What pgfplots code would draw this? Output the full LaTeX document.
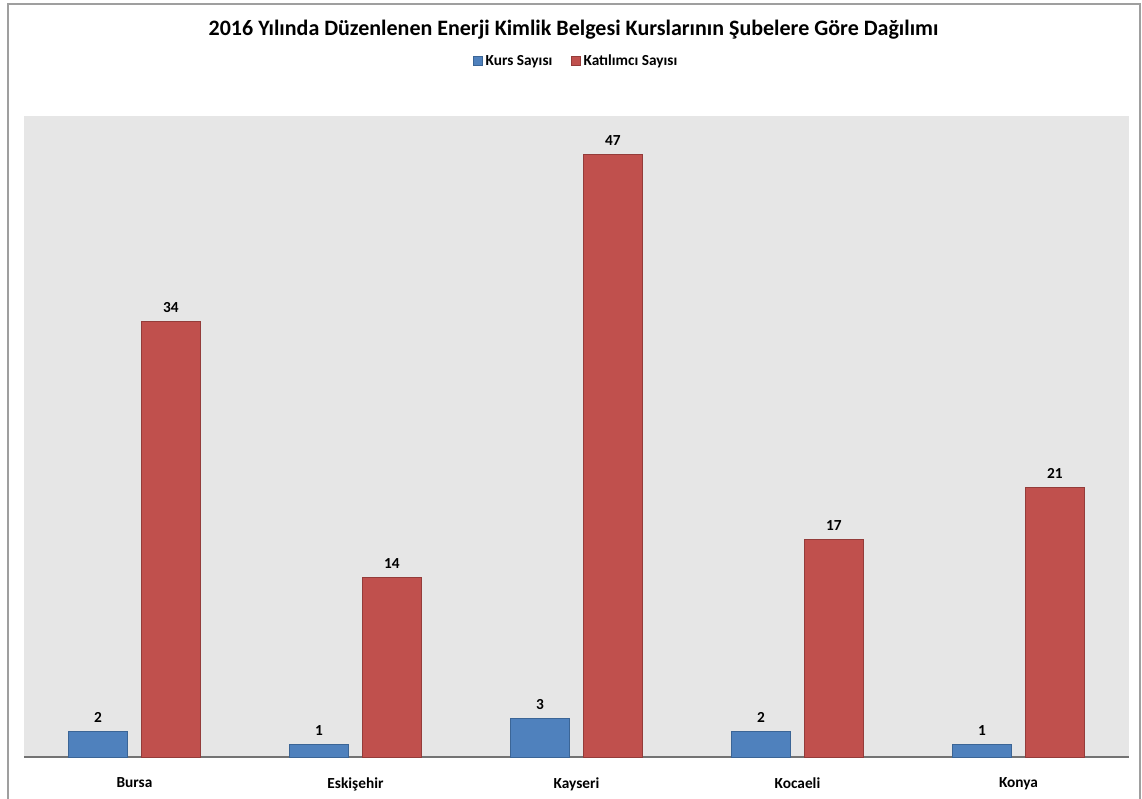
\documentclass[border=0pt]{standalone}
\usepackage{pgfplots}
\pgfplotsset{compat=1.18}
\usepackage{fontspec}
\setmainfont{Carlito}
\definecolor{kurs}{HTML}{4F81BD}
\definecolor{kursb}{HTML}{3B6596}
\definecolor{kat}{HTML}{C0504D}
\definecolor{katb}{HTML}{943C3A}
\definecolor{bg}{HTML}{E6E6E6}
\begin{document}
\begin{tikzpicture}[x=0.75pt,y=0.75pt]
\useasboundingbox (0,0) rectangle (1142,799);
\draw[gray!75, line width=1.5pt] (7.5,-10) -- (7.5,795) -- (1139.5,795) -- (1139.5,-10);
\begin{axis}[
  at={(18pt,31.5pt)}, anchor=south west,
  scale only axis, width=828.75pt, height=480.75pt,
  xmin=-0.5, xmax=4.5, ymin=0, ymax=50,
  axis background/.style={fill=bg},
  axis x line=bottom, axis y line=none,
  x axis line style={-, draw=gray!90!black, line width=0.8pt},
  ytick=\empty,
  xtick={0,1,2,3,4},
  xticklabels={Bursa,Eskişehir,Kayseri,Kocaeli,Konya},
  major tick length=0pt,
  xticklabel style={font=\bfseries\fontsize{11.5}{13}\selectfont, yshift=-12pt},
  ybar, bar width=0.267,
  nodes near coords,
  /pgf/number format/assume math mode=true,
  every node near coord/.append style={font=\bfseries\fontsize{11.5}{13}\selectfont, text=black, yshift=3pt},
  legend columns=2,
  legend style={at={(0.5,1.0858)}, anchor=center, draw=none, fill=none,
    font=\bfseries\fontsize{11.5}{13}\selectfont,
    /tikz/every even column/.append style={column sep=12pt}},
  legend image code/.code={\draw[#1] (0pt,-3.4pt) rectangle (6.8pt,3.4pt);},
  clip=false,
]
\addplot[fill=kurs, draw=kursb, line width=0.6pt, bar shift=-0.165] coordinates {(0,2) (1,1) (2,3) (3,2) (4,1)};
\addplot[fill=kat, draw=katb, line width=0.6pt, bar shift=0.165] coordinates {(0,34) (1,14) (2,47) (3,17) (4,21)};
\legend{Kurs Sayısı, Katılımcı Sayısı}
\end{axis}
\node[font=\bfseries\fontsize{16.5}{19}\selectfont] at (573.5,769) {2016 Yılında Düzenlenen Enerji Kimlik Belgesi Kurslarının Şubelere Göre Dağılımı};
\end{tikzpicture}
\end{document}
